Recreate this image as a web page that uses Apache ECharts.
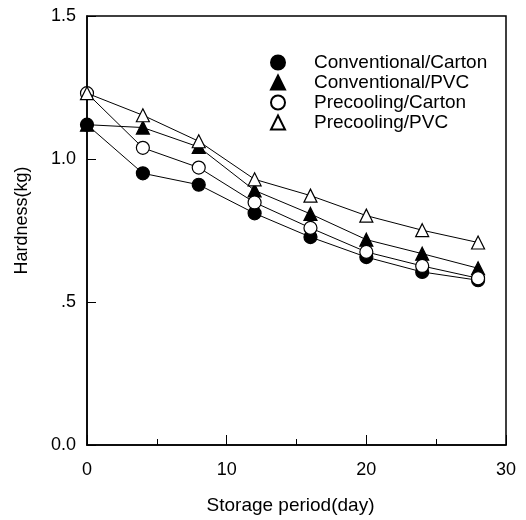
<!DOCTYPE html>
<html><head><meta charset="utf-8">
<script src="https://cdn.jsdelivr.net/npm/echarts@6/dist/echarts.min.js"></script>
<style>html,body{margin:0;padding:0;background:#fff}#c{width:526px;height:520px}</style>
</head><body><div id="c"></div>
<script>
const days = [0, 4, 8, 12, 16, 20, 24, 28];
const seriesNames = ['Conventional/Carton', 'Conventional/PVC', 'Precooling/Carton', 'Precooling/PVC'];
const convCarton = [1.12, 0.95, 0.91, 0.81, 0.727, 0.657, 0.605, 0.576];
const convPVC = [1.12, 1.11, 1.042, 0.89, 0.808, 0.718, 0.669, 0.618];
const preCarton = [1.23, 1.039, 0.97, 0.848, 0.759, 0.675, 0.626, 0.583];
const prePVC = [1.23, 1.153, 1.062, 0.929, 0.872, 0.802, 0.751, 0.708];
const yTickLabels = {0: '0.0', 0.5: '.5', 1: '1.0', 1.5: '1.5'};

const font = 'Liberation Sans, Arial, sans-serif';
function pairs(v) { return days.map((d, i) => [d, v[i]]); }
const styles = [
  {symbol: 'circle', fill: '#000'},
  {symbol: 'triangle', fill: '#000'},
  {symbol: 'circle', fill: '#fff'},
  {symbol: 'triangle', fill: '#fff'}
];
const values = [convCarton, convPVC, preCarton, prePVC];
const chart = echarts.init(document.getElementById('c'));
chart.setOption({
  animation: false,
  backgroundColor: '#fff',
  grid: {left: 87, right: 20, top: 16, bottom: 75, show: true, borderColor: '#000', borderWidth: 1.5},
  legend: {
    orient: 'vertical', left: 265, top: 48,
    itemWidth: 14, itemHeight: 14, itemGap: 1,
    data: seriesNames.map((n, i) => ({name: n, icon: styles[i].symbol})),
    textStyle: {fontFamily: font, fontSize: 19, color: '#000', padding: [0, 0, 0, 24], lineHeight: 18}
  },
  xAxis: {
    type: 'value', min: 0, max: 30, interval: 10,
    name: 'Storage period(day)', nameLocation: 'middle', nameGap: 51,
    nameTextStyle: {fontFamily: font, fontSize: 19, color: '#000', padding: [0, 12, 0, 0]},
    axisLine: {show: true, onZero: false, lineStyle: {color: '#000', width: 1.5}},
    axisTick: {show: true, inside: true, length: 10, lineStyle: {color: '#000'}},
    minorTick: {show: true, splitNumber: 2, length: 6, lineStyle: {color: '#000'}},
    splitLine: {show: false},
    axisLabel: {fontFamily: font, fontSize: 18, color: '#000', margin: 16}
  },
  yAxis: {
    type: 'value', min: 0, max: 1.5, interval: 0.5,
    name: 'Hardness(kg)', nameLocation: 'middle', nameGap: 56, nameRotate: 90,
    nameTextStyle: {fontFamily: font, fontSize: 18, color: '#000', padding: [0, 0, 0, 20]},
    axisLine: {show: true, onZero: false, lineStyle: {color: '#000', width: 1.5}},
    axisTick: {show: true, inside: true, length: 9, lineStyle: {color: '#000'}},
    splitLine: {show: false},
    axisLabel: {fontFamily: font, fontSize: 18, color: '#000', margin: 11,
      formatter: v => yTickLabels[v] !== undefined ? yTickLabels[v] : String(v)}
  },
  series: seriesNames.map((n, i) => ({
    name: n, type: 'line', data: pairs(values[i]),
    symbol: styles[i].symbol, symbolSize: 13, showAllSymbol: true,
    lineStyle: {color: '#000', width: 1},
    itemStyle: {color: styles[i].fill, borderColor: '#000', borderWidth: 1.2},
    z: 2 + i
  }))
});
</script></body></html>
